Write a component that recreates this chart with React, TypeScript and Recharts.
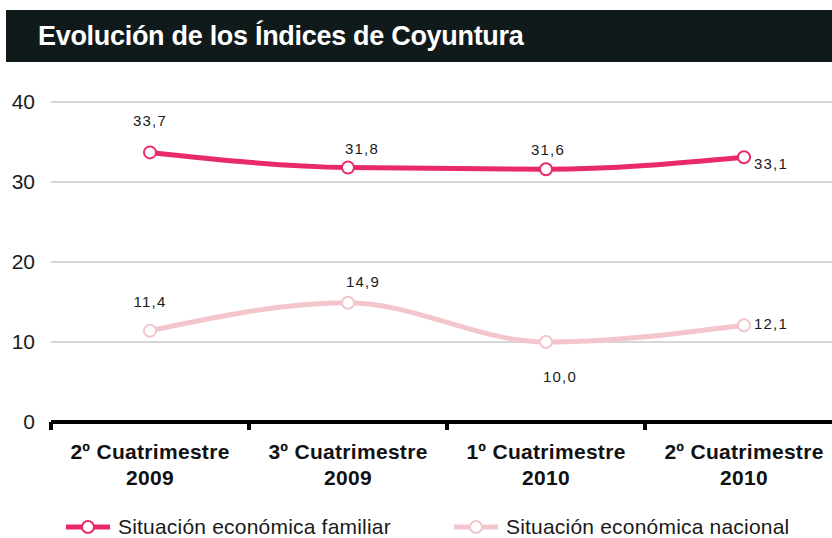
import { CartesianGrid, LabelList, Line, LineChart, XAxis, YAxis } from 'recharts';

const periods = ['2º Cuatrimestre|2009', '3º Cuatrimestre|2009', '1º Cuatrimestre|2010', '2º Cuatrimestre|2010'];
const familiar = [33.7, 31.8, 31.6, 33.1];
const nacional = [11.4, 14.9, 10.0, 12.1];
const yTicks = [0, 10, 20, 30, 40];

const FAM_COLOR = '#e8296c';
const NAC_COLOR = '#f2c6cc';
const FONT = '"Liberation Sans", Arial, Helvetica, sans-serif';

// where each value label sits relative to its point
const famLabelOffset = [[0, -30], [14, -18], [2, -18], [27, 8]];
const nacLabelOffset = [[0, -28], [15, -20], [14, 36], [27, 0]];

const data = periods.map((p, i) => ({ period: p, familiar: familiar[i], nacional: nacional[i] }));

const fmt = (v: number) => v.toFixed(1).replace('.', ',');

function makeLabel(offsets: number[][]) {
  return (props: any) => {
    const { x, y, value, index } = props;
    const [dx, dy] = offsets[index] ?? [0, -20];
    return (
      <text
        x={x + dx}
        y={y + dy}
        textAnchor="middle"
        dominantBaseline="middle"
        fontSize={15}
        letterSpacing={1.2}
        fill="#1a1a1a"
        fontFamily={FONT}
      >
        {fmt(value)}
      </text>
    );
  };
}

function PeriodTick(props: any) {
  const { x, y, payload } = props;
  const [l1, l2] = String(payload.value).split('|');
  const half = 792 / periods.length / 2;
  return (
    <g>
      <rect x={x - half - 2} y={y - 8} width={4} height={8} fill="#000" />
      <text x={x} y={y + 29} textAnchor="middle" fontSize={21} letterSpacing={0.3} fontWeight="bold" fill="#111" fontFamily={FONT}>
        <tspan x={x} dy={0}>{l1}</tspan>
        <tspan x={x} dy={26}>{l2}</tspan>
      </text>
    </g>
  );
}

function LegendItem({ color, label }: { color: string; label: string }) {
  return (
    <div style={{ display: 'flex', alignItems: 'center' }}>
      <svg width={48} height={16}>
        <line x1={2} y1={8} x2={46} y2={8} stroke={color} strokeWidth={5} />
        <circle cx={24} cy={8} r={6} fill="#fff" stroke={color} strokeWidth={2} />
      </svg>
      <span style={{ marginLeft: 6, fontSize: 21, letterSpacing: 0.2, color: '#1a1a1a' }}>{label}</span>
    </div>
  );
}

export default function App() {
  return (
    <div style={{ position: 'absolute', left: 0, top: 0, width: 832, height: 538, overflow: 'hidden', background: '#fff', fontFamily: FONT }}>
      <div
        style={{
          position: 'absolute',
          left: 6,
          top: 10,
          width: 826,
          height: 52,
          background: '#111a1b',
          color: '#fff',
          fontWeight: 'bold',
          fontSize: 27,
          letterSpacing: -0.3,
          lineHeight: '52px',
          paddingLeft: 32,
          boxSizing: 'border-box',
        }}
      >
        Evolución de los Índices de Coyuntura
      </div>
      <div style={{ position: 'absolute', left: 0, top: 0 }}>
        <LineChart width={843} height={538} data={data} margin={{ top: 102, right: 0, left: 0, bottom: 36 }}>
          <CartesianGrid vertical={false} stroke="#c8c8c8" strokeWidth={1.5} />
          <XAxis
            dataKey="period"
            scale="band"
            height={80}
            axisLine={{ stroke: '#000', strokeWidth: 4 }}
            tickLine={false}
            tick={<PeriodTick />}
            interval={0}
          />
          <YAxis
            width={51}
            domain={[0, 40]}
            ticks={yTicks}
            axisLine={false}
            tickLine={false}
            tickMargin={10}
            tick={{ fontSize: 21, fill: '#1a1a1a', fontFamily: FONT }}
          />
          <Line
            type="monotone"
            dataKey="nacional"
            stroke={NAC_COLOR}
            strokeWidth={5}
            dot={{ r: 6, fill: '#fff', stroke: NAC_COLOR, strokeWidth: 2 }}
            activeDot={false}
            isAnimationActive={false}
          >
            <LabelList dataKey="nacional" content={makeLabel(nacLabelOffset)} />
          </Line>
          <Line
            type="monotone"
            dataKey="familiar"
            stroke={FAM_COLOR}
            strokeWidth={5}
            dot={{ r: 6, fill: '#fff', stroke: FAM_COLOR, strokeWidth: 2 }}
            activeDot={false}
            isAnimationActive={false}
          >
            <LabelList dataKey="familiar" content={makeLabel(famLabelOffset)} />
          </Line>
        </LineChart>
      </div>
      <div style={{ position: 'absolute', left: 64, top: 515 }}>
        <LegendItem color={FAM_COLOR} label="Situación económica familiar" />
      </div>
      <div style={{ position: 'absolute', left: 452, top: 515 }}>
        <LegendItem color={NAC_COLOR} label="Situación económica nacional" />
      </div>
    </div>
  );
}
